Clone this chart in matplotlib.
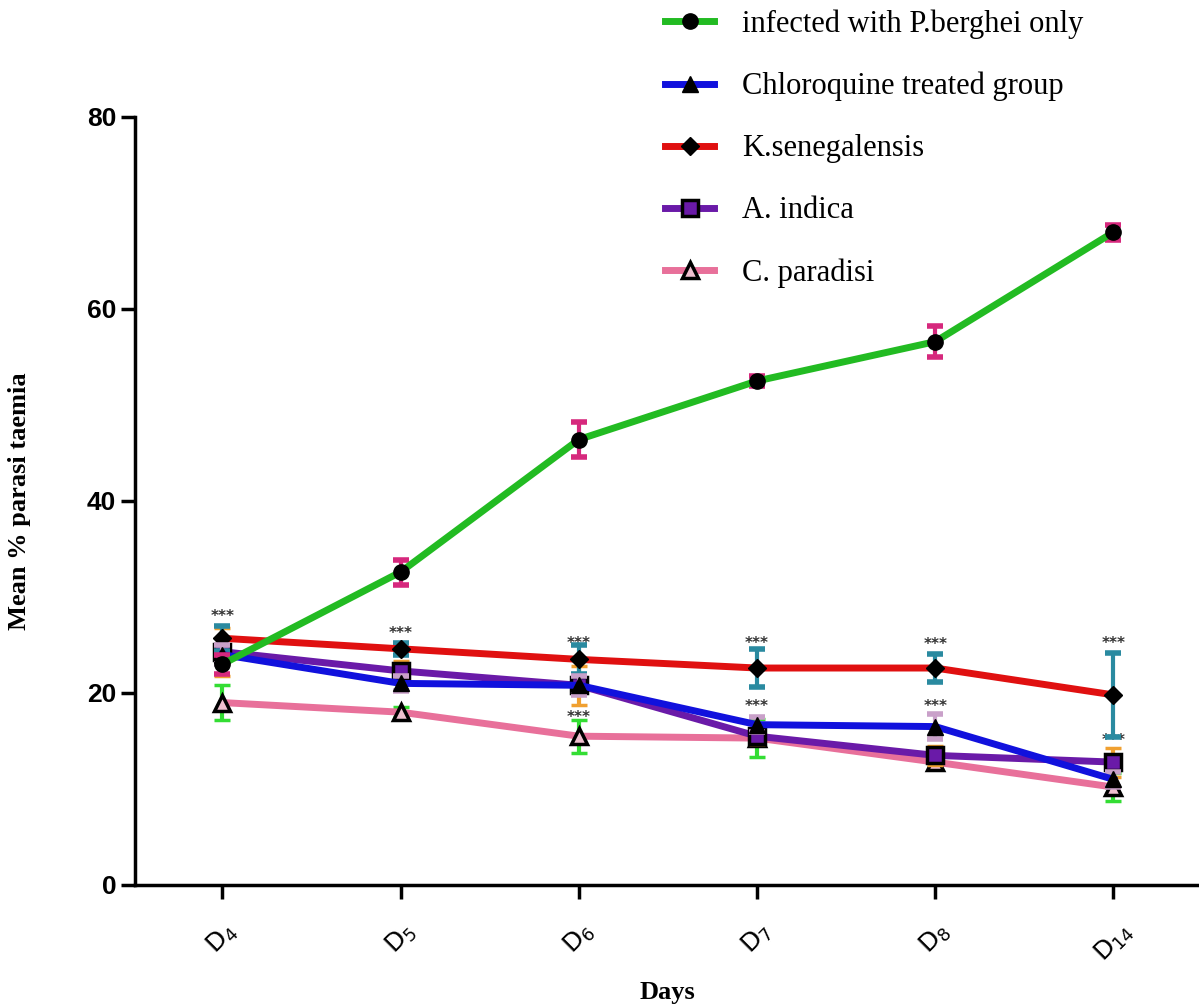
import matplotlib
matplotlib.use("Agg")
import matplotlib.pyplot as plt
import numpy as np

days = ["D$_4$", "D$_5$", "D$_6$", "D$_7$", "D$_8$", "D$_{14}$"]

berghei = [23.0, 32.6, 46.4, 52.5, 56.6, 68.0]
berghei_err = [1.0, 1.3, 1.8, 0.5, 1.6, 0.8]

chloroquine = [24.0, 21.0, 20.8, 16.7, 16.5, 11.0]
chloroquine_err = [1.0, 0.8, 1.0, 0.8, 1.3, 0.8]

senegalensis = [25.7, 24.6, 23.5, 22.6, 22.6, 19.8]
senegalensis_err = [1.3, 0.6, 1.5, 2.0, 1.5, 4.4]

indica = [24.3, 22.3, 20.8, 15.5, 13.5, 12.8]
indica_err = [2.5, 1.0, 2.0, 0.8, 1.0, 1.5]

paradisi = [19.0, 18.0, 15.5, 15.3, 12.8, 10.2]
paradisi_err = [1.8, 0.5, 1.7, 2.0, 0.6, 1.5]

labels = ["infected with P.berghei only", "Chloroquine treated group",
          "K.senegalensis", "A. indica", "C. paradisi"]

star_top = [28.0, 26.2, 25.2, 25.2, 25.0, 25.2]
star_low = [None, None, 17.4, 18.6, 18.6, 15.1]

fig = plt.figure(figsize=(11.99, 10.06), dpi=100)
ax = fig.add_axes([0.1126, 0.1203, 0.8874, 0.7634])
x = np.arange(len(days))

series = [
    (berghei, berghei_err, "#22bb22", "#d6287d", dict(marker="o", mfc="black", mec="black")),
    (chloroquine, chloroquine_err, "#1111dd", "#c9a0c9", dict(marker="^", mfc="black", mec="black")),
    (senegalensis, senegalensis_err, "#e01010", "#2a8aa0", dict(marker="D", mfc="black", mec="black", ms=9)),
    (indica, indica_err, "#6a1aa8", "#f0a030", dict(marker="s", mfc="#6a1aa8", mec="black", mew=2.5)),
    (paradisi, paradisi_err, "#e8709a", "#33dd33", dict(marker="^", mfc="#f0c0d0", mec="black", mew=2.5)),
]

order = [4, 3, 2, 1, 0]
handles = [None] * 5
for i in order:
    vals, err, lc, ec, mk = series[i]
    ms = mk.pop("ms", 11)
    eb = ax.errorbar(x, vals, yerr=err, color=lc, lw=5, ecolor=ec, elinewidth=3,
                     capsize=6, capthick=4, ms=ms, zorder=3 + (4 - i), label=labels[i], **mk)
    handles[i] = eb[0]

for xi, yv in zip(x, star_top):
    ax.text(xi, yv, "***", ha="center", va="center", fontsize=11, fontweight="bold", color="#333333")
for xi, yv in zip(x, star_low):
    if yv is not None:
        ax.text(xi, yv, "***", ha="center", va="center", fontsize=11, fontweight="bold", color="#333333")

ax.set_xlim(-0.49, 5.48)
ax.set_ylim(0, 80)
ax.set_yticks([0, 20, 40, 60, 80])
ax.set_xticks(x)
ax.set_xticklabels(days, rotation=45, fontsize=18)
for lab in ax.get_yticklabels():
    lab.set_fontsize(19)
    lab.set_fontweight("bold")
    lab.set_family("Liberation Sans")
ax.spines["top"].set_visible(False)
ax.spines["right"].set_visible(False)
ax.spines["left"].set_linewidth(2.5)
ax.spines["bottom"].set_linewidth(2.5)
ax.tick_params(axis="both", width=2.5, length=10, direction="out")
ax.tick_params(axis="x", pad=14)

ax.set_xlabel("Days", fontsize=19, fontweight="bold", family="Liberation Serif", labelpad=10)
ax.set_ylabel("Mean % parasi taemia", fontsize=19, fontweight="bold", family="Liberation Serif", labelpad=40)

leg = fig.legend(handles, labels, loc="upper left", bbox_to_anchor=(0.532, 1.018), frameon=False,
                 prop={"family": "Liberation Serif", "size": 22}, labelspacing=1.08,
                 handlelength=1.6, handletextpad=0.9)

fig.savefig("out.png", dpi=100)
